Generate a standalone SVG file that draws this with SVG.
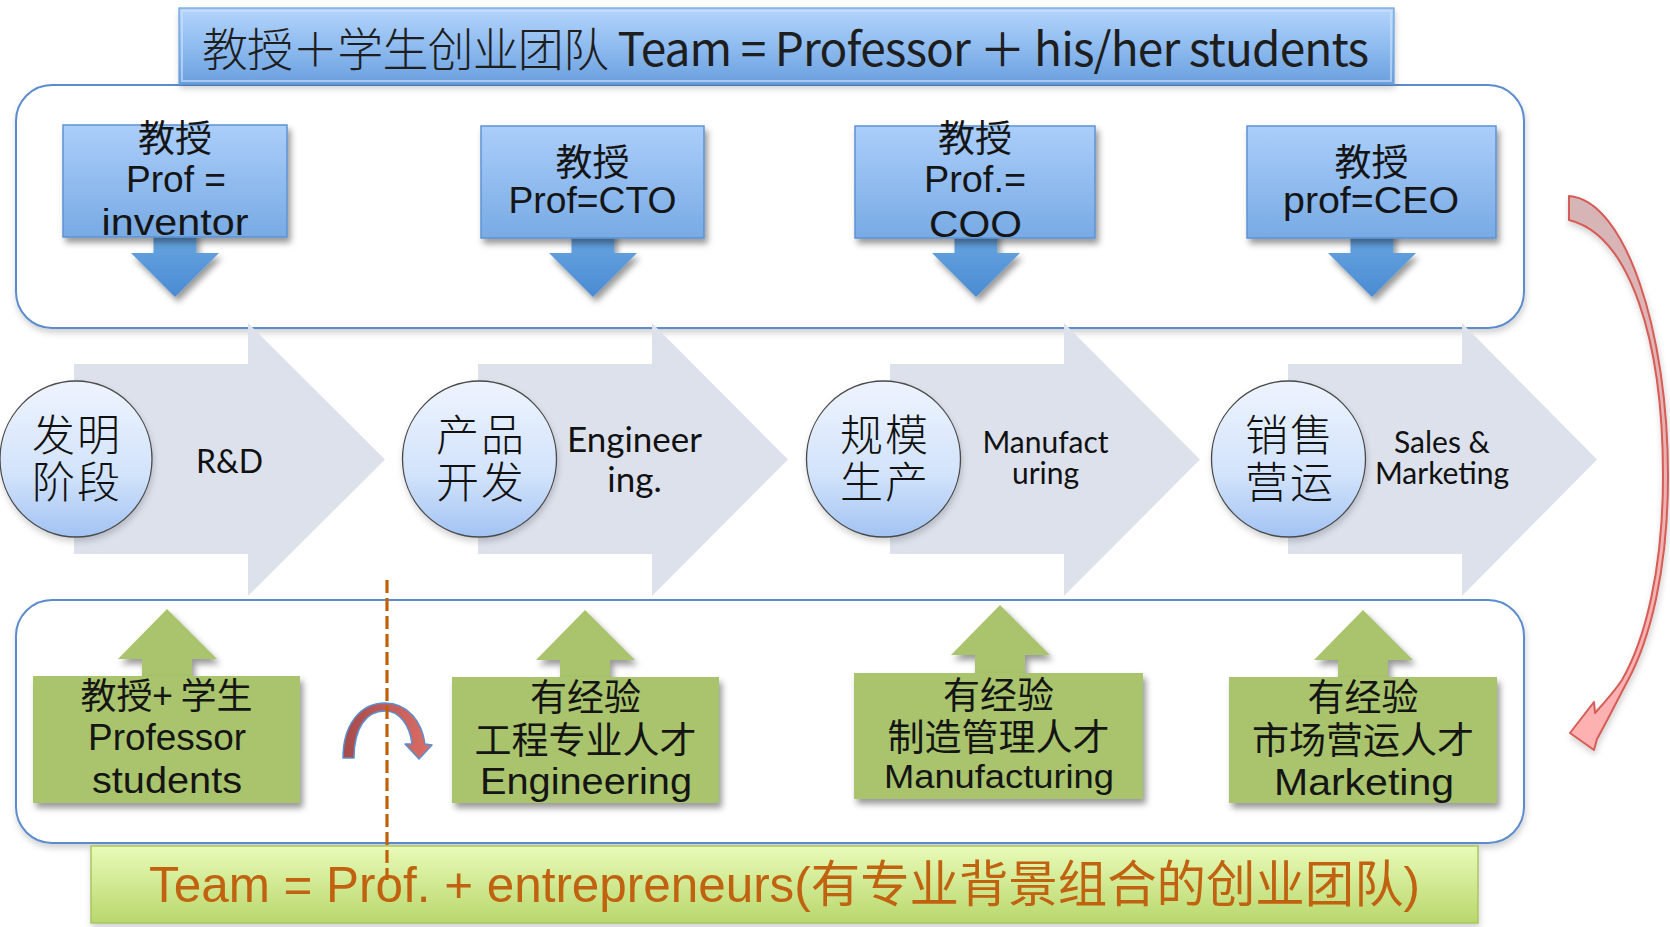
<svg xmlns="http://www.w3.org/2000/svg" width="1670" height="927" viewBox="0 0 1670 927">
<defs>
  <linearGradient id="gBox" x1="0" y1="0" x2="0" y2="1">
    <stop offset="0" stop-color="#abcefa"/>
    <stop offset="1" stop-color="#78aae4"/>
  </linearGradient>
  <linearGradient id="gTitle" x1="0" y1="0" x2="0" y2="1">
    <stop offset="0" stop-color="#b4d4fb"/>
    <stop offset="0.5" stop-color="#8fbcf0"/>
    <stop offset="1" stop-color="#6a9fdd"/>
  </linearGradient>
  <linearGradient id="gArrow" x1="0" y1="0" x2="0" y2="1">
    <stop offset="0" stop-color="#6aa7e2"/>
    <stop offset="1" stop-color="#4a8bd2"/>
  </linearGradient>
  <linearGradient id="gCircle" x1="0" y1="0" x2="0" y2="1">
    <stop offset="0" stop-color="#eef4fe"/>
    <stop offset="0.6" stop-color="#d2e3fb"/>
    <stop offset="1" stop-color="#a2c3f3"/>
  </linearGradient>
  <linearGradient id="gBanner" x1="0" y1="0" x2="0" y2="1">
    <stop offset="0" stop-color="#e8fbb8"/>
    <stop offset="1" stop-color="#b9d76c"/>
  </linearGradient>
  <linearGradient id="gU" x1="0" y1="0" x2="1" y2="0">
    <stop offset="0" stop-color="#a64b4b"/>
    <stop offset="1" stop-color="#dc6e66"/>
  </linearGradient>
  <linearGradient id="gPink" x1="0" y1="0" x2="0" y2="1">
    <stop offset="0" stop-color="#d5b5b7"/>
    <stop offset="1" stop-color="#ffb1b1"/>
  </linearGradient>
  <filter id="shadow" x="-20%" y="-20%" width="140%" height="150%">
    <feDropShadow dx="3" dy="5" stdDeviation="3" flood-color="#000" flood-opacity="0.4"/>
  </filter>
  <filter id="soft" x="-5%" y="-10%" width="110%" height="125%">
    <feDropShadow dx="1" dy="4" stdDeviation="3" flood-color="#000" flood-opacity="0.18"/>
  </filter>
</defs>
<style>
  .cont{fill:#fff;stroke:#5b8ccd;stroke-width:2}
  .chev{fill:#dce1ec}
  .bbox{fill:url(#gBox);stroke:#5d92d2;stroke-width:1.5}
  .barrow{fill:url(#gArrow)}
  .gbox{fill:#a9c46c}
  .circ{fill:url(#gCircle);stroke:#4a4a4a;stroke-width:1.3}
  .bt{font-family:"Liberation Sans","Noto Sans CJK SC",sans-serif;font-size:36px;fill:#151515;text-anchor:middle}
  .cj{font-family:"Noto Sans CJK SC",sans-serif;font-size:37px}
  .ct{font-family:"Noto Sans CJK SC",sans-serif;font-weight:300;font-size:43px;fill:#111;text-anchor:middle;letter-spacing:2px}
  .lab{font-family:Lato,"Liberation Sans",sans-serif;font-size:30px;fill:#111;text-anchor:middle}
</style>

<g id="containers">
  <rect id="top-panel" x="16" y="85" width="1508" height="243" rx="36" ry="36" class="cont" filter="url(#soft)"/>
  <rect id="bottom-panel" x="16" y="600" width="1508" height="243" rx="36" ry="36" class="cont" filter="url(#soft)"/>
</g>

<g id="chevrons">
  <path class="chev" d="M74,364 H248 V323 L385,459.5 L248,596 V554 H74 Z"/>
  <path class="chev" d="M478,364 H652 V323 L788,459.5 L652,596 V554 H478 Z"/>
  <path class="chev" d="M890,364 H1064 V323 L1200,459.5 L1064,596 V554 H890 Z"/>
  <path class="chev" d="M1288,364 H1462 V323 L1597,459.5 L1462,596 V554 H1288 Z"/>
</g>

<g id="node-prof-inventor">
  <path class="barrow" d="M153.5,230 H196.5 V253 H219 L175,297 L131,253 H153.5 Z" filter="url(#shadow)"/>
  <rect class="bbox" x="63" y="125" width="224" height="112" filter="url(#shadow)"/>
  <text class="bt"><tspan class="cj" x="175" y="152">教授</tspan><tspan x="176" y="192" textLength="100" lengthAdjust="spacingAndGlyphs">Prof =</tspan><tspan x="175" y="235" textLength="147" lengthAdjust="spacingAndGlyphs">inventor</tspan></text>
</g>
<g id="node-prof-cto">
  <path class="barrow" d="M571.5,230 H614.5 V253 H637 L593,297 L549,253 H571.5 Z" filter="url(#shadow)"/>
  <rect class="bbox" x="481" y="126" width="223" height="112" filter="url(#shadow)"/>
  <text class="bt"><tspan class="cj" x="592.5" y="176">教授</tspan><tspan x="592.5" y="213" textLength="168" lengthAdjust="spacingAndGlyphs">Prof=CTO</tspan></text>
</g>
<g id="node-prof-coo">
  <path class="barrow" d="M954.5,230 H997.5 V253 H1020 L976,297 L932,253 H954.5 Z" filter="url(#shadow)"/>
  <rect class="bbox" x="855" y="126" width="240" height="112" filter="url(#shadow)"/>
  <text class="bt"><tspan class="cj" x="975" y="152">教授</tspan><tspan x="975" y="192" textLength="102" lengthAdjust="spacingAndGlyphs">Prof.=</tspan><tspan x="975.5" y="237" textLength="93" lengthAdjust="spacingAndGlyphs">COO</tspan></text>
</g>
<g id="node-prof-ceo">
  <path class="barrow" d="M1350.5,230 H1393.5 V253 H1416 L1372,297 L1328,253 H1350.5 Z" filter="url(#shadow)"/>
  <rect class="bbox" x="1247" y="126" width="249" height="112" filter="url(#shadow)"/>
  <text class="bt"><tspan class="cj" x="1371.5" y="176">教授</tspan><tspan x="1371" y="213" textLength="176" lengthAdjust="spacingAndGlyphs">prof=CEO</tspan></text>
</g>

<g id="node-stage-invention">
  <ellipse class="circ" cx="76" cy="459" rx="76" ry="78" filter="url(#soft)"/>
  <text class="ct"><tspan x="77" y="451">发明</tspan><tspan x="77" y="498">阶段</tspan></text>
  <text class="lab" x="229.5" y="473" style="font-size:32px">R&amp;D</text>
</g>
<g id="node-stage-product">
  <ellipse class="circ" cx="479.5" cy="459" rx="77" ry="78" filter="url(#soft)"/>
  <text class="ct"><tspan x="481" y="451">产品</tspan><tspan x="481" y="498">开发</tspan></text>
  <text class="lab" style="font-size:35px"><tspan x="634.5" y="452">Engineer</tspan><tspan x="634.5" y="492">ing.</tspan></text>
</g>
<g id="node-stage-manufacturing">
  <ellipse class="circ" cx="883.5" cy="459" rx="77" ry="78" filter="url(#soft)"/>
  <text class="ct"><tspan x="885" y="451">规模</tspan><tspan x="885" y="498">生产</tspan></text>
  <text class="lab"><tspan x="1045.5" y="453">Manufact</tspan><tspan x="1045.5" y="484">uring</tspan></text>
</g>
<g id="node-stage-sales">
  <ellipse class="circ" cx="1288.5" cy="459" rx="77" ry="78" filter="url(#soft)"/>
  <text class="ct"><tspan x="1290" y="451">销售</tspan><tspan x="1290" y="498">营运</tspan></text>
  <text class="lab"><tspan x="1442" y="453">Sales &amp;</tspan><tspan x="1442" y="484">Marketing</tspan></text>
</g>

<g id="node-team-students">
  <path class="gbox" d="M142,680 V659 H118 L167,609 L217,659 H192 V680 Z" filter="url(#shadow)"/>
  <rect class="gbox" x="33" y="676" width="267" height="127" filter="url(#shadow)"/>
  <text class="bt"><tspan class="cj" style="font-size:36px" x="166.5" y="709">教授+ 学生</tspan><tspan x="167" y="750" textLength="158" lengthAdjust="spacingAndGlyphs">Professor</tspan><tspan x="167" y="793" textLength="150" lengthAdjust="spacingAndGlyphs">students</tspan></text>
</g>
<g id="node-team-engineering">
  <path class="gbox" d="M560,680 V660 H536 L585,610 L635,660 H610 V680 Z" filter="url(#shadow)"/>
  <rect class="gbox" x="452" y="677" width="267" height="126" filter="url(#shadow)"/>
  <text class="bt"><tspan class="cj" x="585.5" y="711">有经验</tspan><tspan class="cj" x="585.5" y="754">工程专业人才</tspan><tspan x="586" y="794" textLength="212" lengthAdjust="spacingAndGlyphs">Engineering</tspan></text>
</g>
<g id="node-team-manufacturing">
  <path class="gbox" d="M975,676 V655 H951 L1000,605 L1050,655 H1025 V676 Z" filter="url(#shadow)"/>
  <rect class="gbox" x="854" y="673" width="289" height="126" filter="url(#shadow)"/>
  <text class="bt"><tspan class="cj" x="998.5" y="709">有经验</tspan><tspan class="cj" x="998.5" y="751">制造管理人才</tspan><tspan x="999" y="788" style="font-size:34px" textLength="230" lengthAdjust="spacingAndGlyphs">Manufacturing</tspan></text>
</g>
<g id="node-team-marketing">
  <path class="gbox" d="M1338,680 V660 H1314 L1363,610 L1413,660 H1388 V680 Z" filter="url(#shadow)"/>
  <rect class="gbox" x="1229" y="677" width="268" height="126" filter="url(#shadow)"/>
  <text class="bt"><tspan class="cj" x="1363" y="711">有经验</tspan><tspan class="cj" x="1363" y="754">市场营运人才</tspan><tspan x="1364" y="795" textLength="180" lengthAdjust="spacingAndGlyphs">Marketing</tspan></text>
</g>

<g id="node-title">
  <rect x="179" y="8" width="1215" height="76" fill="url(#gTitle)" stroke="#6b9edb" stroke-width="1.2" filter="url(#soft)"/>
  <rect x="182" y="11" width="1209" height="70" fill="none" stroke="#cfe3fd" stroke-opacity="0.6" stroke-width="2"/>
  <text x="202" y="66" font-family="'Noto Sans CJK SC',sans-serif" font-weight="300" font-size="46" fill="#1e1e1e" textLength="1167">教授＋学生创业团队 <tspan font-weight="400">Team = Professor ＋ his/her students</tspan></text>
</g>

<g id="node-banner">
  <rect x="91" y="846" width="1387" height="77" fill="url(#gBanner)" stroke="#a9c562" stroke-width="1.5" filter="url(#soft)"/>
  <text x="149" y="902" font-family="'Liberation Sans','Noto Sans CJK SC',sans-serif" font-size="50" fill="#c0620f" textLength="1271" lengthAdjust="spacingAndGlyphs">Team = Prof. + entrepreneurs(有专业背景组合的创业团队)</text>
</g>

<g id="connectors">
  <path id="u-turn" d="M343,758 C343,725 360,703 385,703 C408,703 422,722 425,744 L432,745 L419,759 L405,744 L412,744 C410,726 400,711 385,711 C366,711 354,728 354,758 Z" fill="url(#gU)" stroke="#5b8fd0" stroke-width="1.5" stroke-linejoin="round"/>
  <path id="loop-back" d="M1569,196 C1625,200 1668,330 1668,476 C1668,570 1650,640 1627,682 C1615,705 1605,725 1597,739 L1594,750 L1570,733 L1594,702 L1595,713 C1605,702 1614,692 1622,680 C1645,640 1663,570 1663,476 C1663,340 1630,235 1569,220 Z" fill="url(#gPink)" stroke="#d65b56" stroke-width="2" stroke-linejoin="round" filter="url(#soft)"/>
  <line id="divider" x1="387" y1="580" x2="387" y2="880" stroke="#c0600a" stroke-width="3.2" stroke-dasharray="13 5"/>
</g>
</svg>
